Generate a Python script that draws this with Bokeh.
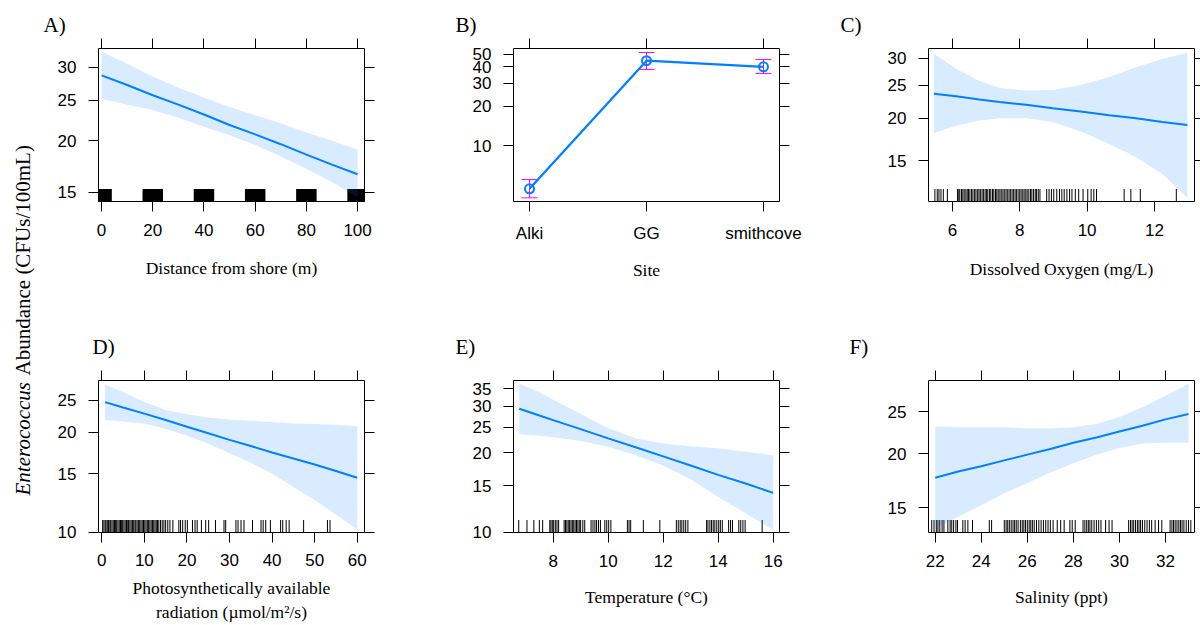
import numpy as np
from bokeh.plotting import figure
from bokeh.models import (Range1d, FixedTicker, LinearAxis, LogAxis, PrintfTickFormatter,
                          ColumnDataSource, Whisker, TeeHead, CustomLabelingPolicy)
from bokeh.layouts import row, column
from bokeh.embed import file_html
from bokeh.resources import INLINE
from bokeh.core.properties import value

# ---------------- data ----------------
# A) distance from shore
dist_x = [0, 10, 20, 30, 40, 50, 60, 70, 80, 90, 100]
dist_fit = [28.7, 27.2, 25.7, 24.4, 23.1, 21.8, 20.7, 19.6, 18.5, 17.5, 16.6]
dist_lo = [25.2, 24.4, 23.7, 22.7, 21.6, 20.6, 19.5, 18.3, 17.1, 15.9, 14.6]
dist_hi = [32.7, 30.6, 28.5, 26.8, 25.4, 24.1, 23.0, 22.0, 20.9, 20.0, 19.0]
dist_rug = [0, 20, 40, 60, 80, 100]

# B) site
site_names = ["Alki", "GG", "smithcove"]
site_fit = [4.72, 44.5, 40.0]
site_lo = [4.03, 38.2, 35.6]
site_hi = [5.55, 51.4, 45.5]

# C) dissolved oxygen
do_x = [5.45, 6.11, 6.80, 7.40, 8.19, 8.98, 9.87, 10.66, 11.45, 12.24, 12.98]
do_fit = [23.6, 23.2, 22.7, 22.3, 21.9, 21.4, 20.9, 20.4, 20.0, 19.5, 19.1]
do_lo = [18.1, 19.0, 19.7, 20.0, 20.0, 19.5, 18.2, 16.8, 15.4, 13.7, 11.7]
do_hi = [30.9, 27.9, 25.7, 24.5, 24.1, 24.2, 25.1, 26.4, 28.2, 29.8, 31.1]
do_rug = [5.48, 5.55, 5.60, 5.66, 5.73, 5.85,
          6.15, 6.19, 6.22, 6.27, 6.31, 6.35, 6.40, 6.44, 6.48, 6.52, 6.57, 6.61, 6.66,
          6.70, 6.75, 6.79, 6.83, 6.88, 6.92, 6.97, 7.01, 7.05, 7.10, 7.14, 7.19, 7.23,
          7.28, 7.32, 7.36, 7.41, 7.45, 7.50, 7.54, 7.59, 7.63, 7.68, 7.72, 7.77, 7.81,
          7.86, 7.90, 7.95, 8.00, 8.04, 8.09, 8.13, 8.18, 8.22, 8.27, 8.32, 8.36, 8.41,
          8.46, 8.50, 8.55, 8.60,
          8.80, 8.87, 8.94, 9.01, 9.10, 9.18, 9.25, 9.32, 9.40, 9.48, 9.55, 9.65, 9.75,
          9.88, 10.02, 10.12, 10.20, 10.28,
          11.10, 11.30, 11.58, 12.65]

# D) PAR
par_x = [0.77, 5, 10, 15, 20, 25, 30, 35, 40, 45, 50, 55, 60]
par_fit = [24.7, 23.8, 22.8, 21.8, 20.8, 19.9, 19.0, 18.2, 17.4, 16.7, 16.0, 15.3, 14.6]
par_lo = [21.8, 21.6, 21.3, 20.5, 19.6, 18.5, 17.3, 16.2, 15.0, 13.7, 12.5, 11.3, 10.2]
par_hi = [27.9, 26.5, 24.7, 23.4, 22.7, 22.2, 21.9, 21.7, 21.5, 21.3, 21.2, 21.1, 20.9]
par_rug = [0.2, 0.5, 0.8, 1.0, 1.3, 1.6, 1.9, 2.1, 2.4, 2.7, 3.0, 3.2, 3.5, 3.8, 4.1, 4.4,
           4.6, 4.9, 5.2, 5.5, 5.8, 6.1, 6.3, 6.6, 6.9, 7.2, 7.5, 7.8, 8.0, 8.3, 8.6, 8.9,
           9.2, 9.5, 9.8, 10.1, 10.4, 10.7, 11.0, 11.3, 11.6, 11.9, 12.2, 12.5, 12.8, 13.1,
           13.4, 13.8, 14.2, 14.6, 15.0, 15.5, 16.0, 16.7, 18.1, 18.5, 19.0, 19.6, 20.1,
           21.3, 21.9, 22.4, 23.4, 24.4, 25.1, 26.7, 28.7, 29.1, 31.5, 32.0, 32.7, 33.4,
           35.4, 37.4, 37.9, 38.5, 39.6, 42.0, 42.5, 43.3, 44.0, 47.4, 53.0, 53.6]

# E) temperature
tmp_x = [6.77, 7.5, 8, 9, 10, 11, 12, 13, 14, 15, 16]
tmp_fit = [29.4, 27.7, 26.6, 24.6, 22.7, 21.0, 19.4, 17.9, 16.5, 15.3, 14.1]
tmp_lo = [23.5, 23.2, 22.9, 22.2, 21.1, 19.6, 17.9, 15.9, 13.6, 11.8, 10.2]
tmp_hi = [36.6, 33.9, 31.8, 28.1, 24.8, 22.7, 21.7, 21.2, 20.8, 20.2, 19.6]
tmp_rug = [6.75, 7.05, 7.3, 7.5, 7.62, 7.88, 7.92, 7.97, 8.02, 8.08, 8.14, 8.2, 8.4, 8.45,
           8.5, 8.55, 8.6, 8.65, 8.7, 8.75, 8.8, 8.85, 8.9, 8.95, 9.0, 9.08, 9.15, 9.38,
           9.45, 9.52, 9.58, 9.65, 9.72, 9.88, 9.95, 10.02, 10.1, 10.7, 10.76, 10.82, 11.28,
           11.88, 12.48, 12.55, 12.62, 12.68, 12.75, 12.82, 12.9, 13.58, 13.63, 13.7, 13.76,
           13.82, 13.88, 13.95, 14.02, 14.08, 14.15, 14.38, 14.45, 14.52, 14.75, 14.82,
           14.9, 14.98, 15.6]

# F) salinity
sal_x = [22, 23, 24, 25, 26, 27, 28, 29, 30, 31, 32, 33]
sal_fit = [17.6, 18.2, 18.7, 19.3, 19.9, 20.5, 21.2, 21.8, 22.5, 23.2, 24.0, 24.7]
sal_lo = [13.4, 14.3, 15.2, 16.2, 17.1, 18.1, 19.0, 19.9, 20.6, 21.1, 21.2, 21.2]
sal_hi = [23.1, 23.0, 23.0, 23.0, 22.9, 22.9, 23.0, 23.4, 24.3, 25.6, 27.2, 29.0]
sal_rug = [21.85, 21.95, 22.05, 22.12, 22.2, 22.3, 22.38, 22.55, 22.65, 22.72, 22.8, 22.9,
           22.97, 23.2, 23.3, 23.42, 23.62, 24.35, 24.45, 25.0, 25.08, 25.15, 25.22, 25.3,
           25.38, 25.45, 25.52, 25.6, 25.7, 25.78, 25.85, 25.92, 26.0, 26.08, 26.15, 26.22,
           26.3, 26.4, 26.5, 26.6, 26.7, 26.8, 26.9, 27.0, 27.12, 27.3, 27.45, 27.6, 27.85,
           27.95, 28.08, 28.42, 28.5, 28.58, 28.65, 28.72, 28.8, 28.9, 29.0, 29.1, 29.2,
           29.4, 29.55, 29.68, 30.4, 30.48, 30.55, 30.62, 30.7, 30.78, 30.85, 30.92, 31.0,
           31.1, 31.2, 31.3, 31.4, 31.55, 31.7, 31.84, 32.2, 32.28, 32.35, 32.42, 32.5,
           32.58, 32.65, 32.72, 32.8, 32.9, 33.0, 33.1]

# ---------------- style ----------------
BLUE = "#0080ff"
SANS = "Liberation Sans"
SERIF = "Liberation Serif"
TICK_FS = "17px"
LAB_FS = "17.5px"

HIDE_CODE = """
try { for (const i of indices) { indices.unset(i) } } catch (e) {}
return indices
"""


def style_axis(ax, labels=True, tick_out=10, tick_standoff=12):
    ax.major_tick_out = tick_out
    ax.major_tick_in = 0
    ax.minor_tick_out = 0
    ax.minor_tick_in = 0
    ax.major_tick_line_color = "black"
    ax.axis_line_color = None
    if labels:
        ax.major_label_text_font = SANS
        ax.major_label_text_font_size = TICK_FS
        ax.major_label_text_color = "black"
        ax.major_label_standoff = tick_standoff
        ax.axis_label_text_font = SERIF
        ax.axis_label_text_font_size = LAB_FS
        ax.axis_label_text_font_style = "normal"
        ax.axis_label_text_color = "black"
    else:
        ax.major_label_policy = CustomLabelingPolicy(code=HIDE_CODE)
        ax.major_label_text_font_size = "0px"
        ax.major_label_standoff = 0


def make_panel(width, height, bl, br, bt, bb, xr, yr, xticks, yticks, xlabel,
               letter, ldx, title_standoff=3, right_tick=10, label_standoff=17,
               x_tick_standoff=12, x_overrides=None):
    p = figure(width=width, height=height, x_range=Range1d(*xr), y_range=Range1d(*yr),
               y_axis_type="log", output_backend="svg", toolbar_location=None,
               min_border_left=bl, min_border_right=br, min_border_top=bt,
               min_border_bottom=bb, title=letter)
    p.title.align = "left"
    p.title.offset = ldx
    p.title.text_font = SERIF
    p.title.text_font_size = "21px"
    p.title.text_font_style = "normal"
    p.title.text_color = "black"
    p.title.standoff = title_standoff
    p.grid.visible = False
    p.outline_line_color = "black"
    p.outline_line_alpha = 1.0
    p.outline_line_width = 1
    p.background_fill_color = "white"
    p.border_fill_color = "white"
    xa = p.xaxis[0]
    ya = p.yaxis[0]
    xa.ticker = FixedTicker(ticks=xticks)
    ya.ticker = FixedTicker(ticks=yticks)
    ya.formatter = PrintfTickFormatter(format="%d")
    if x_overrides:
        xa.major_label_overrides = x_overrides
    style_axis(xa, tick_standoff=x_tick_standoff)
    style_axis(ya)
    xa.axis_label = xlabel
    xa.axis_label_standoff = label_standoff
    top = LinearAxis(ticker=FixedTicker(ticks=xticks))
    style_axis(top, labels=False)
    p.add_layout(top, "above")
    right = LogAxis(ticker=FixedTicker(ticks=yticks))
    style_axis(right, labels=False, tick_out=right_tick)
    p.add_layout(right, "right")
    return p


def add_effect(p, x, fit, lo, hi):
    p.varea(x=x, y1=lo, y2=hi, fill_color=BLUE, fill_alpha=0.15)
    p.line(x=x, y=fit, line_color=BLUE, line_width=2)


def add_rug(p, rug, ybottom):
    p.scatter(x=rug, y=[ybottom] * len(rug), marker="dash", angle=np.pi / 2, size=25,
              line_color="black", line_width=1)


R1H, R2H = 320, 305
W1, W2, W3 = 375, 415, 370

# A
yrA = (14.27, 33.3)
pA = make_panel(W1, R1H, 58, 51, 48, 119, (-1.2, 102.7), yrA, [0, 20, 40, 60, 80, 100],
                [15, 20, 25, 30], "Distance from shore (m)", "A)", -55, label_standoff=19)
pA.rect(x=dist_rug, y=[yrA[0]] * len(dist_rug), width=8, height=25, height_units="screen",
        fill_color="black", line_color=None)
add_effect(pA, dist_x, dist_fit, dist_lo, dist_hi)

# B
site_pos = [i + 1 for i in range(len(site_names))]
pB = make_panel(W2, R1H, 98, 51, 48, 119, (0.863, 3.137), (3.78, 55.1), site_pos,
                [10, 20, 30, 40, 50], "Site", "B)", -58, label_standoff=14,
                x_overrides={pos: name for pos, name in zip(site_pos, site_names)})
srcB = ColumnDataSource(dict(x=site_pos, fit=site_fit, lo=site_lo, hi=site_hi))
pB.add_layout(Whisker(source=srcB, base="x", upper="hi", lower="lo", dimension="height",
                      line_color="#ff00ff", line_width=1,
                      upper_head=TeeHead(size=16, line_color="#ff00ff", line_width=1),
                      lower_head=TeeHead(size=16, line_color="#ff00ff", line_width=1)))
pB.line(x="x", y="fit", source=srcB, line_color=BLUE, line_width=2.3)
pB.scatter(x="x", y="fit", source=srcB, marker="circle", size=9, fill_color=None,
           line_color=BLUE, line_width=2)

# C
yrC = (11.4, 32.0)
pC = make_panel(W3, R1H, 98, 6, 48, 119, (5.29, 13.19), yrC, [6, 8, 10, 12],
                [15, 20, 25, 30], "Dissolved Oxygen (mg/L)", "C)", -88, right_tick=6,
                label_standoff=20)
add_rug(pC, do_rug, yrC[0])
add_effect(pC, do_x, do_fit, do_lo, do_hi)

# D
yrD = (9.98, 28.7)
pD = make_panel(W1, R2H, 58, 51, 60, 93, (-0.77, 61.7), yrD, [0, 10, 20, 30, 40, 50, 60],
                [10, 15, 20, 25], "Photosynthetically available\nradiation (\u00b5mol/m\u00b2/s)",
                "D)", -6, title_standoff=24, label_standoff=9, x_tick_standoff=11)
pD.xaxis[0].axis_label_text_line_height = 1.0
add_rug(pD, par_rug, yrD[0])
add_effect(pD, par_x, par_fit, par_lo, par_hi)

# E
yrE = (9.98, 37.6)
pE = make_panel(W2, R2H, 98, 51, 60, 93, (6.56, 16.23), yrE, [8, 10, 12, 14, 16],
                [10, 15, 20, 25, 30, 35], "Temperature (\u00b0C)", "E)", -58,
                title_standoff=24, label_standoff=17)
add_rug(pE, tmp_rug, yrE[0])
add_effect(pE, tmp_x, tmp_fit, tmp_lo, tmp_hi)

# F
yrF = (13.16, 29.5)
pF = make_panel(W3, R2H, 98, 6, 60, 93, (21.71, 33.26), yrF, [22, 24, 26, 28, 30, 32],
                [15, 20, 25], "Salinity (ppt)", "F)", -79, right_tick=6,
                title_standoff=24, label_standoff=17)
add_rug(pF, sal_rug, yrF[0])
add_effect(pF, sal_x, sal_fit, sal_lo, sal_hi)

# shared y label
lab = figure(width=40, height=625, x_range=Range1d(0, 40), y_range=Range1d(625, 0),
             output_backend="svg", toolbar_location=None, min_border=0,
             x_axis_location=None, y_axis_location=None)
lab.grid.visible = False
lab.outline_line_color = None
lab.text(x=[22], y=[495], text=["Enterococcus"], angle=np.pi / 2,
         text_font=value(SERIF), text_font_style="italic", text_font_size="21px",
         text_align="left", text_baseline="middle", text_color="black")
lab.text(x=[22], y=[375], text=["Abundance (CFUs/100mL)"], angle=np.pi / 2,
         text_font=value(SERIF), text_font_size="21px",
         text_align="left", text_baseline="middle", text_color="black")

layout = row(lab, column(row(pA, pB, pC), row(pD, pE, pF)))

open("out.html", "w").write(file_html(layout, INLINE))
